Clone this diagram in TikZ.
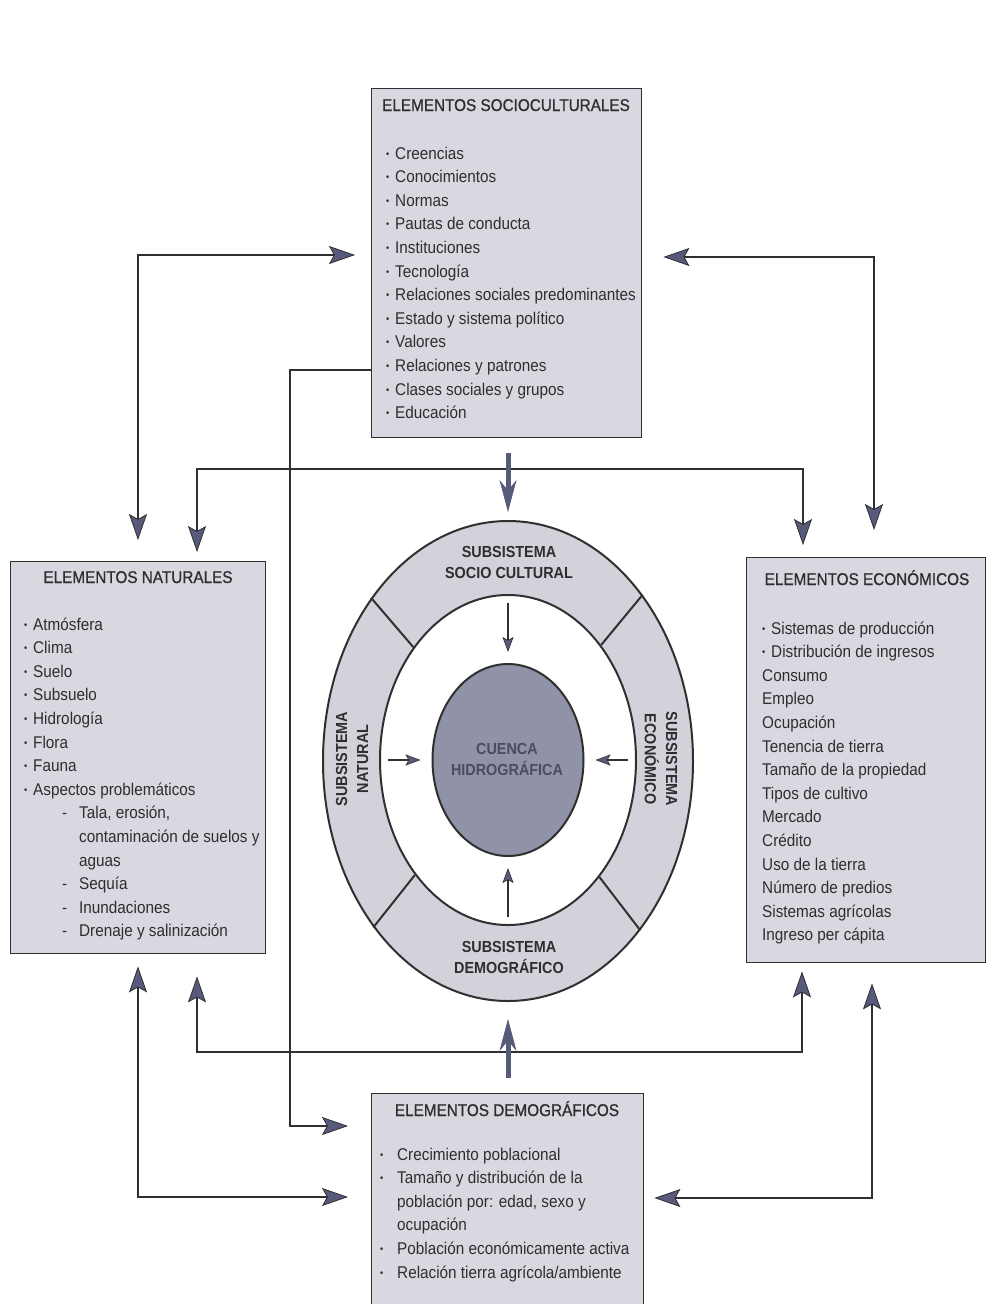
\documentclass[tikz,border=0pt]{standalone}
\usepackage{fontspec}
\setmainfont{Liberation Sans}[FakeStretch=0.9]
\newfontfamily\titlefont{Liberation Sans}[FakeStretch=0.9,FakeBold=0.8]
\usetikzlibrary{arrows.meta,shapes.geometric,calc}

\definecolor{boxgray}{HTML}{D8D8E0}
\definecolor{ringgray}{HTML}{D2D2DA}
\definecolor{basingray}{HTML}{9092A7}
\definecolor{wire}{HTML}{303030}
\definecolor{tipblue}{HTML}{575A7A}
\definecolor{ink}{HTML}{2E2E2E}
\definecolor{basinink}{HTML}{4B4C62}

\newcommand{\dotmark}{\raisebox{2pt}{\fontsize{10}{10}\selectfont •}}
\newcommand{\bul}{\makebox[9pt][l]{\dotmark}}
\newcommand{\wbul}{\makebox[17pt][l]{\dotmark}}
\newcommand{\dsh}{\hspace*{38pt}\makebox[17pt][l]{-}}
\newcommand{\ind}{\hspace*{55pt}}

\begin{document}
\begin{tikzpicture}
    [x=1pt,y=-1pt,
     >={Stealth[length=26pt,width=18pt,inset=5pt,fill=tipblue,line width=0.8pt]},
     elbox/.style={rectangle, draw=wire, line width=1.4pt, fill=boxgray, inner sep=0, anchor=north west},
     eltitle/.style={font=\titlefont\fontsize{17}{20}\selectfont, text=ink, inner sep=0, anchor=base},
     ellist/.style={font=\fontsize{17}{23.6}\selectfont, text=ink, inner sep=0, anchor=base west},
     sublabel/.style={font=\bfseries\fontsize{16}{21}\selectfont, text=ink, align=center, inner sep=0},
     oval/.style={ellipse, draw=wire, line width=2pt, inner sep=0},
     link/.style={draw=wire, line width=2.6pt, ->},
     dlink/.style={link, <->},
     bigarr/.style={draw=tipblue, line width=5pt, -{Stealth[length=32pt,width=17pt,fill=tipblue,line width=0.8pt]}},
     small/.style={draw=wire, line width=1.8pt, shorten <=9pt, shorten >=11pt,
       -{Stealth[length=15pt,width=11pt,inset=3pt,fill=tipblue,line width=0.6pt]}}]
    \path[use as bounding box, fill=white] (0,0) rectangle (987,1304);
    \clip (0,0) rectangle (987,1304);

    % the four boxes
    \node[elbox, minimum width=270pt, minimum height=349pt] (soc) at (371,88) {};
    \node[elbox, minimum width=255pt, minimum height=392pt] (nat) at (10,561) {};
    \node[elbox, minimum width=239pt, minimum height=405pt] (eco) at (746,557) {};
    \node[elbox, minimum width=272pt, minimum height=240pt] (dem) at (371,1093) {};

    \node[eltitle] (soctitle) at (506,111) {ELEMENTOS SOCIOCULTURALES};
    \node[eltitle] (nattitle) at (138,583) {ELEMENTOS NATURALES};
    \node[eltitle] (ecotitle) at (867,585) {ELEMENTOS ECONÓMICOS};
    \node[eltitle] (demtitle) at (507,1116) {ELEMENTOS DEMOGRÁFICOS};

    \node[ellist] (soclist) at (386,159) {\parbox[t]{260pt}{%
      \bul Creencias\\
      \bul Conocimientos\\
      \bul Normas\\
      \bul Pautas de conducta\\
      \bul Instituciones\\
      \bul Tecnología\\
      \bul Relaciones sociales predominantes\\
      \bul Estado y sistema político\\
      \bul Valores\\
      \bul Relaciones y patrones\\
      \bul Clases sociales y grupos\\
      \bul Educación}};
    \node[ellist] (natlist) at (24,630) {\parbox[t]{240pt}{%
      \bul Atmósfera\\
      \bul Clima\\
      \bul Suelo\\
      \bul Subsuelo\\
      \bul Hidrología\\
      \bul Flora\\
      \bul Fauna\\
      \bul Aspectos problemáticos\\
      \dsh Tala, erosión,\\
      \ind contaminación de suelos y\\
      \ind aguas\\
      \dsh Sequía\\
      \dsh Inundaciones\\
      \dsh Drenaje y salinización}};
    \node[ellist] (ecolist) at (762,634) {\parbox[t]{220pt}{%
      \bul Sistemas de producción\\
      \bul Distribución de ingresos\\
      Consumo\\
      Empleo\\
      Ocupación\\
      Tenencia de tierra\\
      Tamaño de la propiedad\\
      Tipos de cultivo\\
      Mercado\\
      Crédito\\
      Uso de la tierra\\
      Número de predios\\
      Sistemas agrícolas\\
      Ingreso per cápita}};
    \node[ellist] (demlist) at (380,1160) {\parbox[t]{260pt}{%
      \wbul Crecimiento poblacional\\
      \wbul Tamaño y distribución de la\\
      \hspace*{17pt}población por: edad, sexo y\\
      \hspace*{17pt}ocupación\\
      \wbul Población económicamente activa\\
      \wbul Relación tierra agrícola/ambiente}};

    % the basin and its subsystems
    \node[oval, fill=ringgray, minimum width=370pt, minimum height=480pt] (ring) at (508,761) {};
    \node[oval, fill=white, minimum width=256pt, minimum height=330pt] (inner) at (508,760) {};
    \node[oval, fill=basingray, minimum width=151pt, minimum height=192pt] (basin) at (508,760) {};
    \foreach \a in {51,130,231,308}
      \draw[wire, line width=2pt] (ring.\a) -- (inner.\a);

    \node[sublabel] (socsub) at (509,562) {SUBSISTEMA\\SOCIO CULTURAL};
    \node[sublabel] (demsub) at (509,957) {SUBSISTEMA\\DEMOGRÁFICO};
    \node[sublabel, rotate=90] (natsub) at (352,759) {SUBSISTEMA\\NATURAL};
    \node[sublabel, rotate=-90] (ecosub) at (661,759) {SUBSISTEMA\\ECONÓMICO};
    \node[sublabel, text=basinink] (basinlab) at (507,759) {CUENCA\\HIDROGRÁFICA};

    \foreach \s in {north,south,east,west}
      \draw[small] (inner.\s) -- (basin.\s);

    % connectors
    \coordinate (nwk) at (138,255);
    \coordinate (nek) at (874,257);
    \coordinate (wk1) at (290,370);
    \coordinate (wk2) at (290,1126);
    \coordinate (tl) at (197,469);
    \coordinate (tr) at (803,469);
    \coordinate (bl) at (197,1052);
    \coordinate (br) at (802,1052);
    \coordinate (swk) at (138,1197);
    \coordinate (sek) at (872,1198);

    \draw[dlink, shorten <=16pt, shorten >=21pt] (soc.west |- nwk) -- (nwk) -- (nwk |- nat.north);
    \draw[dlink, shorten <=21pt, shorten >=27pt] (soc.east |- nek) -- (nek) -- (nek |- eco.north);
    \draw[link, shorten >=23pt] (soc.west |- wk1) -- (wk1) -- (wk2) -- (dem.west |- wk2);
    \draw[dlink, shorten <=9pt, shorten >=12pt] (tl |- nat.north) -- (tl) -- (tr) -- (tr |- eco.north);
    \draw[dlink, shorten <=22pt, shorten >=8pt] (bl |- nat.south) -- (bl) -- (br) -- (br |- eco.south);
    \draw[dlink, shorten <=12pt, shorten >=23pt] (swk |- nat.south) -- (swk) -- (dem.west |- swk);
    \draw[dlink, shorten <=20pt, shorten >=10pt] (sek |- eco.south) -- (sek) -- (dem.east |- sek);
    \draw[bigarr, shorten >=8pt] ($(ring.north |- soc.south)+(0,15)$) -- (ring.north);
    \draw[bigarr, shorten >=17pt] ($(ring.south |- dem.north)+(0,-15)$) -- (ring.south);
\end{tikzpicture}
\end{document}
